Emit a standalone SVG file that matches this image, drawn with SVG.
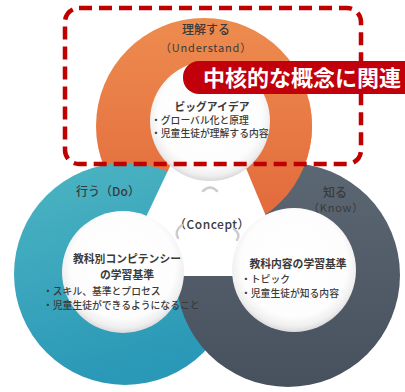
<svg xmlns="http://www.w3.org/2000/svg" width="405" height="392" viewBox="0 0 405 392">
<style>
text{font-family:"Noto Sans CJK JP","Noto Sans",sans-serif;fill:#3a3a3a}
.h{font-size:12px;font-weight:500}
.sub{font-size:11px;letter-spacing:0.8px}
.b{font-size:10.8px;font-weight:700}
.s{font-size:9.8px;font-weight:500}
.chev{fill:none;stroke:#cdcdcd;stroke-width:2.5;stroke-linecap:round}
</style>
<defs>
<linearGradient id="gO" x1="0" y1="0" x2="0" y2="1"><stop offset="0" stop-color="#ED8C4F"/><stop offset="1" stop-color="#E2673A"/></linearGradient>
<linearGradient id="gT" x1="0" y1="0" x2="0.3" y2="1"><stop offset="0" stop-color="#4DB5C2"/><stop offset="1" stop-color="#2A98B7"/></linearGradient>
<linearGradient id="gD" x1="0" y1="0" x2="0" y2="1"><stop offset="0" stop-color="#5B6773"/><stop offset="1" stop-color="#47515D"/></linearGradient>
<radialGradient id="gW" cx="0.5" cy="0.45" r="0.55"><stop offset="0" stop-color="#ffffff"/><stop offset="0.78" stop-color="#fdfdfd"/><stop offset="0.92" stop-color="#efefef"/><stop offset="1" stop-color="#d9d9d9"/></radialGradient>
<clipPath id="cR"><rect x="215" y="100" width="190" height="130"/></clipPath>
</defs>
<rect width="405" height="392" fill="#ffffff"/>
<g id="ring-understand">
<circle cx="204" cy="126" r="108" fill="url(#gO)"/>
</g>
<g id="ring-do">
<circle cx="125" cy="274" r="111" fill="url(#gT)"/>
</g>
<g id="ring-know">
<circle cx="288" cy="275" r="112" fill="url(#gD)"/>
</g>
<g id="ring-understand-over">
<circle cx="204" cy="126" r="108" fill="url(#gO)" clip-path="url(#cR)"/>
</g>
<g id="concept">
<polygon points="210,82 118,276 291,276" fill="#ffffff"/>
<text class="h" x="212" y="229" text-anchor="middle" letter-spacing="0.5">（Concept）</text>
</g>
<g id="connectors">
<path class="chev" d="M204,168 Q210,174 216,168"/>
<path class="chev" d="M203,191 Q210,184 217,191"/>
<path class="chev" d="M182,225 Q174,231 178,238"/>
<path class="chev" d="M160,237 Q167,242 163,249"/>
<path class="chev" d="M234,229 Q241,234 237,240"/>
<path class="chev" d="M254,237 Q247,242 251,249"/>
</g>
<g id="node-understand">
<circle cx="210" cy="121" r="60" fill="url(#gW)"/>
<text class="h" x="206" y="34" text-anchor="middle" font-size="12.5">理解する</text>
<text class="sub" x="206" y="52" text-anchor="middle">（Understand）</text>
<text class="b" x="212" y="111" text-anchor="middle">ビッグアイデア</text>
<text class="s" x="151" y="124">・グローバル化と原理</text>
<text class="s" x="151" y="137">・児童生徒が理解する内容</text>
</g>
<g id="node-do">
<circle cx="123" cy="272" r="61" fill="url(#gW)"/>
<text class="h" x="108" y="196" text-anchor="middle">行う（Do）</text>
<text class="b" x="127" y="263" text-anchor="middle">教科別コンピテンシー</text>
<text class="b" x="127" y="279" text-anchor="middle">の学習基準</text>
<text class="s" x="43" y="295">・スキル、基準とプロセス</text>
<text class="s" x="43" y="309">・児童生徒ができるようになること</text>
</g>
<g id="node-know">
<circle cx="294" cy="270" r="62" fill="url(#gW)"/>
<text class="h" x="335" y="197" text-anchor="middle" font-size="13">知る</text>
<text class="sub" x="336" y="212" text-anchor="middle">（Know）</text>
<text class="b" x="298" y="268" text-anchor="middle">教科内容の学習基準</text>
<text class="s" x="241" y="283">・トピック</text>
<text class="s" x="241" y="297">・児童生徒が知る内容</text>
</g>
<g id="callout">
<rect x="65" y="8" width="296" height="156" rx="14" fill="none" stroke="#C00000" stroke-width="4.5" stroke-dasharray="13 7"/>
<rect x="183" y="61" width="260" height="33" rx="16" fill="#C2000B"/>
<text x="203" y="86" font-size="22" font-weight="700" style="fill:#ffffff">中核的な概念に関連</text>
</g>
</svg>
